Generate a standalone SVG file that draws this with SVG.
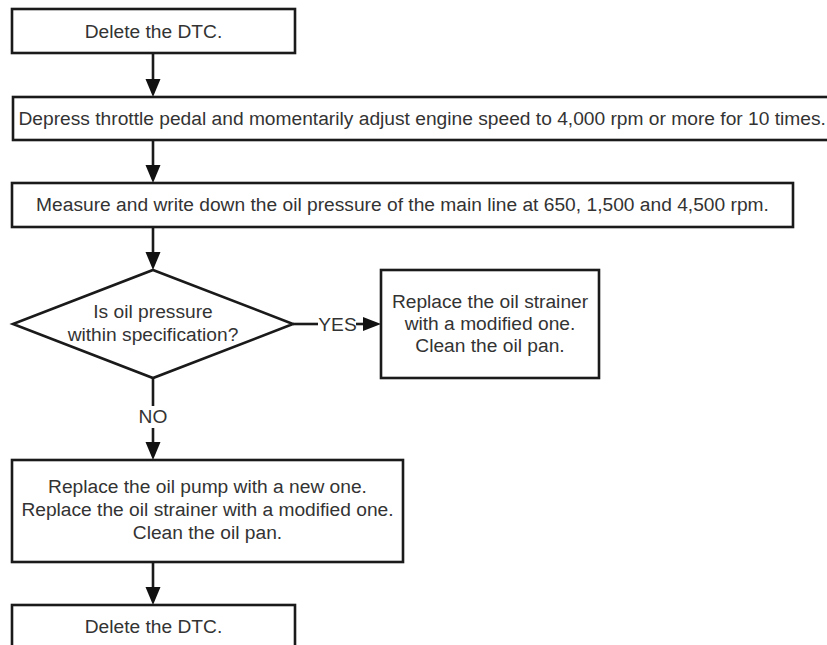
<svg xmlns="http://www.w3.org/2000/svg" width="827" height="645" viewBox="0 0 827 645">
<style>
.box{fill:#fff;stroke:#1a1a1a;stroke-width:2.6}
.ln{fill:none;stroke:#1a1a1a;stroke-width:2.6}
.ah{fill:#111;stroke:none}
text{font-family:"Liberation Sans",Arial,sans-serif;font-size:19.2px;fill:#333;text-anchor:middle}
</style>
<rect x="0" y="0" width="827" height="645" fill="#fff"/>
<g id="connectors">
<line class="ln" x1="153" y1="53" x2="153" y2="80"/>
<polygon class="ah" points="145.5,79 160.5,79 153,97"/>
<line class="ln" x1="153" y1="140" x2="153" y2="166"/>
<polygon class="ah" points="145.5,165 160.5,165 153,183"/>
<line class="ln" x1="153" y1="227" x2="153" y2="253"/>
<polygon class="ah" points="145.5,252 160.5,252 153,270"/>
<line class="ln" x1="293" y1="324" x2="318" y2="324"/>
<line class="ln" x1="356" y1="324" x2="364" y2="324"/>
<polygon class="ah" points="363,317 363,331 381,324"/>
<text x="337.5" y="330.5">YES</text>
<line class="ln" x1="153" y1="378" x2="153" y2="406"/>
<text x="153" y="423">NO</text>
<line class="ln" x1="153" y1="428" x2="153" y2="443"/>
<polygon class="ah" points="145.5,442 160.5,442 153,460"/>
<line class="ln" x1="153" y1="562" x2="153" y2="588"/>
<polygon class="ah" points="145.5,587 160.5,587 153,605"/>
</g>
<g id="n1">
<rect class="box" x="12" y="9" width="283" height="44"/>
<text x="153.5" y="37.5">Delete the DTC.</text>
</g>
<g id="n2">
<rect class="box" x="13" y="97" width="830" height="43"/>
<text x="18.5" y="124.5" style="text-anchor:start">Depress throttle pedal and momentarily adjust engine speed to 4,000 rpm or more for 10 times.</text>
</g>
<g id="n3">
<rect class="box" x="12" y="183" width="781" height="44"/>
<text x="402.5" y="211">Measure and write down the oil pressure of the main line at 650, 1,500 and 4,500 rpm.</text>
</g>
<g id="n4">
<polygon class="box" points="153,270 293,324 153,378 13,324"/>
<text x="153" y="318">Is oil pressure</text>
<text x="153" y="341">within specification?</text>
</g>
<g id="n5">
<rect class="box" x="381" y="270" width="218" height="108"/>
<text x="490" y="307.5">Replace the oil strainer</text>
<text x="490" y="329.5">with a modified one.</text>
<text x="490" y="351.5">Clean the oil pan.</text>
</g>
<g id="n6">
<rect class="box" x="12" y="460" width="391" height="102"/>
<text x="207.5" y="493">Replace the oil pump with a new one.</text>
<text x="207.5" y="516">Replace the oil strainer with a modified one.</text>
<text x="207.5" y="538.5">Clean the oil pan.</text>
</g>
<g id="n7">
<rect class="box" x="12" y="605" width="283" height="60"/>
<text x="153.5" y="633">Delete the DTC.</text>
</g>
</svg>
